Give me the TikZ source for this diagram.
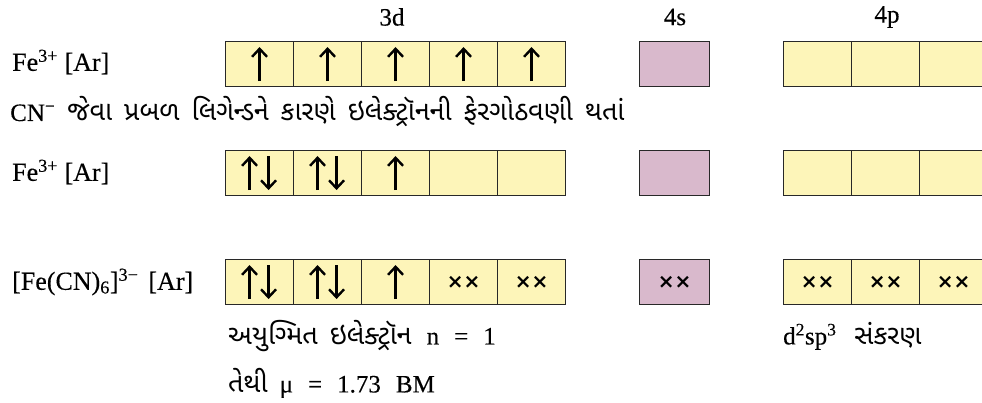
\documentclass[tikz,border=0pt]{standalone}
\usepackage{fontspec}
\setmainfont{Liberation Serif}[FakeBold=0.3]
\newfontfamily\guj[Script=Gujarati]{Noto Sans Gujarati UI}
\newfontfamily\xsym{DejaVu Sans}
\usetikzlibrary{arrows.meta}

\definecolor{orbyellow}{RGB}{253,245,185}
\definecolor{orbpink}{RGB}{217,185,204}
\definecolor{orbline}{RGB}{40,40,40}

\tikzset{
  orb/.style={draw=orbline, line width=1.1pt, minimum width=68pt, minimum height=45pt,
              inner sep=0pt, anchor=north west, fill=orbyellow},
  orbs/.style={orb, fill=orbpink, minimum width=70pt},
  spin/.style={line width=2.4pt, -{Straight Barb[length=8pt,width=15pt,line width=2.4pt]}},
  head/.style={font=\fontsize{25}{30}\selectfont, inner sep=0pt},
  lbl/.style={font=\fontsize{26}{31}\selectfont, inner sep=0pt, anchor=west},
  gtxt/.style={font=\fontsize{25}{30}\selectfont, inner sep=0pt, anchor=west},
  pair/.style={font=\xsym\bfseries\fontsize{20}{24}\selectfont, inner sep=0pt}
}

% gaps used in the running text
\newcommand{\wgap}{\hspace{12pt}}
\newcommand{\lgap}{\hspace{15pt}}
\newcommand{\gsz}{\fontsize{27}{32}\selectfont}

\newcommand{\spinup}[1]{\draw[spin] ([yshift=-17pt]#1.center) -- ([yshift=17pt]#1.center);}
\newcommand{\spinpair}[1]{%
  \draw[spin] ([xshift=-10pt,yshift=-17pt]#1.center) -- ([xshift=-10pt,yshift=17pt]#1.center);
  \draw[spin] ([xshift=9pt,yshift=17pt]#1.center) -- ([xshift=9pt,yshift=-17pt]#1.center);}

\begin{document}
\begin{tikzpicture}[x=1pt,y=-1pt]
\useasboundingbox (0,0) rectangle (982,402);
\begin{scope}
\clip (0,0) rectangle (982,402);

% subshell headings
\node[head] (h3d) at (392,17) {3d};
\node[head] (h4s) at (675,17) {4s};
\node[head] (h4p) at (887,17) {4p};

% three rows of orbital boxes
\foreach \r/\y in {1/41,2/150,3/259}{
  \foreach \i/\x in {1/225,2/293,3/361,4/429,5/497}
    \node[orb] (d\r\i) at (\x,\y) {};
  \node[orbs] (s\r) at (639,\y) {};
  \foreach \i/\x in {1/783,2/851,3/919}
    \node[orb] (p\r\i) at (\x,\y) {};
}

% row 1: free ion, five unpaired electrons
\foreach \i in {1,...,5}{\spinup{d1\i}}

% row 2: electrons paired by the strong ligand
\spinpair{d21}
\spinpair{d22}
\spinup{d23}

% row 3: complex, ligand pairs in the hybrid orbitals
\spinpair{d31}
\spinpair{d32}
\spinup{d33}
\foreach \n in {d34,d35,s3,p31,p32,p33}
  \node[pair] at (\n.center) {××};

% row labels
\node[lbl] (l1) at (12,62) {Fe\textsuperscript{3+} [Ar]};
\node[lbl] (l2) at (12,172) {Fe\textsuperscript{3+} [Ar]};
\node[lbl] (l3) at (12,282) {[Fe(CN)\textsubscript{6}]\textsuperscript{3−}\hspace{10pt}[Ar]};

% explanatory text
\node[gtxt] (t1) at (10,112) {CN\textsuperscript{−}\wgap{\guj\gsz જેવા\wgap પ્રબળ\wgap લિગેન્ડને\wgap કારણે\wgap ઇલેક્ટ્રૉનની\wgap ફેરગોઠવણી\wgap થતાં}};
\node[gtxt] (t2) at (228,336) {{\guj\gsz અયુગ્મિત\wgap ઇલેક્ટ્રૉન}\lgap n\lgap =\lgap 1};
\node[gtxt] (t3) at (228,383) {{\guj\gsz તેથી}\wgap μ\lgap =\lgap 1.73\lgap BM};
\node[gtxt] (t4) at (783,336) {d\textsuperscript{2}sp\textsuperscript{3}\hspace{18pt}{\guj\gsz સંકરણ}};
\end{scope}
\end{tikzpicture}
\end{document}
